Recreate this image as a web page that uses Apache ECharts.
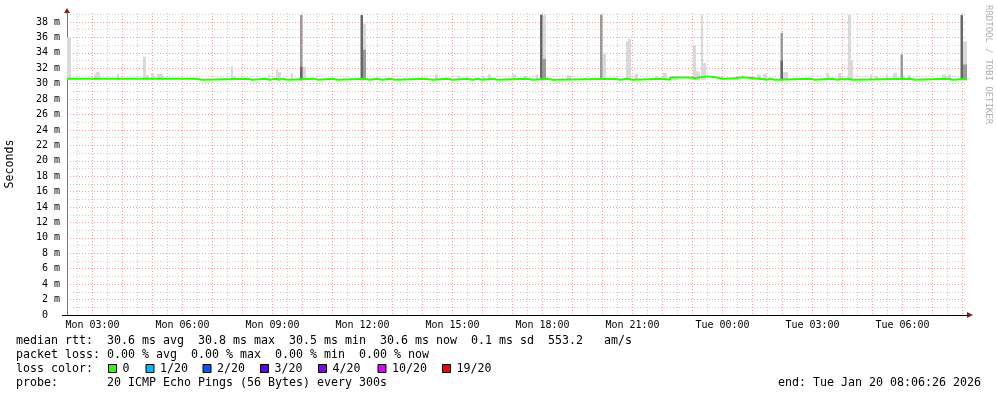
<!DOCTYPE html>
<html>
  <head>
    <meta charset="utf-8" />
    <title>smokeping median rtt</title>
    <script src="https://cdn.jsdelivr.net/npm/echarts@6/dist/echarts.min.js"></script>
  </head>
  <body style="margin:0;background:#fff;">
    <div id="container" style="width: 997px;height: 397px;"></div>

    <script type="text/javascript">
    // time values are minutes since Mon 00:00
    var timeMin = 129;
    var timeMax = 1929;
    var valueMax = 39.17;

    var xLabelTimes = [180, 360, 540, 720, 900, 1080, 1260, 1440, 1620, 1800];
    var yLabelValues = [0, 2, 4, 6, 8, 10, 12, 14, 16, 18, 20, 22, 24, 26, 28, 30, 32, 34, 36, 38];

    // median rtt, step changes [time, ms]
    var medianSteps = [
      [129, 30.65], [385, 30.52], [400, 30.65], [490, 30.52], [500, 30.65],
      [525, 30.52], [535, 30.65], [545, 30.52], [555, 30.65], [560, 30.52],
      [570, 30.65], [625, 30.52], [630, 30.65], [660, 30.52], [670, 30.65],
      [725, 30.52], [735, 30.65], [750, 30.52], [760, 30.65], [775, 30.52],
      [785, 30.65], [845, 30.52], [860, 30.65], [890, 30.52], [900, 30.65],
      [930, 30.52], [940, 30.65], [950, 30.52], [960, 30.65], [980, 30.52],
      [990, 30.65], [1050, 30.52], [1060, 30.65], [1090, 30.52], [1100, 30.65],
      [1225, 30.52], [1235, 30.65], [1250, 30.52], [1260, 30.65], [1320, 30.52],
      [1335, 30.8], [1370, 30.75], [1385, 30.95], [1410, 30.8], [1430, 30.65],
      [1440, 30.7], [1465, 30.85], [1480, 30.65], [1515, 30.52], [1530, 30.65],
      [1535, 30.52], [1545, 30.65], [1615, 30.52], [1625, 30.65], [1660, 30.52],
      [1670, 30.65], [1680, 30.52], [1685, 30.65], [1690, 30.52], [1700, 30.65],
      [1815, 30.52], [1825, 30.65], [1890, 30.52], [1900, 30.65], [1929, 30.65]
    ];

    // smoke [from, to, top ms]
    var smokeFloor = 30.45;
    var smokeLight = [
      [129, 137, 36.0], [183, 187, 31.2], [187, 195, 31.5], [229, 233, 31.3],
      [281, 287, 33.5], [287, 293, 31.1], [297, 303, 31.4], [309, 321, 31.3],
      [457, 461, 32.25], [461, 467, 31.0], [531, 535, 31.2], [547, 551, 31.8],
      [551, 557, 31.5], [577, 581, 31.4], [600, 607, 32.2], [721, 727, 37.8],
      [865, 871, 31.2], [911, 915, 31.0], [959, 965, 31.0], [971, 977, 31.2],
      [1019, 1027, 31.2], [1041, 1047, 31.0], [1067, 1071, 31.2], [1080, 1087, 38.95],
      [1129, 1137, 31.1], [1200, 1207, 33.9], [1247, 1251, 35.5], [1251, 1257, 35.8],
      [1265, 1271, 31.3], [1305, 1311, 31.0], [1321, 1329, 31.4], [1339, 1349, 31.0],
      [1381, 1387, 35.0], [1387, 1395, 31.6], [1397, 1401, 38.95], [1401, 1407, 32.7],
      [1509, 1517, 31.2], [1521, 1529, 31.3], [1561, 1571, 31.5], [1647, 1653, 31.4],
      [1671, 1677, 31.4], [1691, 1697, 38.95], [1697, 1701, 33.0], [1735, 1739, 31.2],
      [1745, 1751, 31.0], [1767, 1771, 31.2], [1781, 1789, 31.4], [1801, 1805, 31.1],
      [1811, 1817, 31.1], [1879, 1887, 31.2], [1891, 1897, 31.2], [1921, 1929, 35.5]
    ];
    var smokeMid = [
      [595, 600, 38.9], [721, 727, 34.4], [1080, 1087, 33.2], [1195, 1200, 38.95],
      [1556, 1561, 36.6], [1796, 1801, 33.8], [1921, 1929, 32.5]
    ];
    var smokeDark = [
      [595, 600, 32.2], [716, 721, 38.9], [1075, 1080, 38.95], [1556, 1561, 33.0],
      [1916, 1921, 38.9]
    ];

    var lossLabels = ['0', '1/20', '2/20', '3/20', '4/20', '10/20', '19/20'];
    var lossColors = ['#26ff00', '#00b8ff', '#0059ff', '#5e00ff', '#7e00ff', '#dd00ff', '#ff0000'];

    var medianText = 'median rtt:  30.6 ms avg  30.8 ms max  30.5 ms min  30.6 ms now  0.1 ms sd  553.2   am/s';
    var lossText = 'packet loss: 0.00 % avg  0.00 % max  0.00 % min  0.00 % now';
    var probeText = 'probe:       20 ICMP Echo Pings (56 Bytes) every 300s';
    var endText = 'end: Tue Jan 20 08:06:26 2026';

    var mono = '"DejaVu Sans Mono", monospace';
    var hourLines = [];
    var halfHourLines = [];
    for (var t = 150; t <= timeMax; t += 60) {
      halfHourLines.push(t);
      if (t + 30 <= timeMax) hourLines.push(t + 30);
    }
    var evenLines = yLabelValues.slice();
    var oddLines = yLabelValues.map(function (v) { return v + 1; });

    function pad(n) { return (n < 10 ? '0' : '') + n; }
    function timeLabel(v) {
      var day = v < 1440 ? 'Mon' : 'Tue';
      var m = v % 1440;
      return day + ' ' + pad(Math.floor(m / 60)) + ':' + pad(m % 60);
    }

    function smokeSeries(data, color) {
      return {
        type: 'custom',
        xAxisIndex: 0,
        yAxisIndex: 0,
        silent: true,
        clip: true,
        renderItem: function (params, api) {
          var p0 = api.coord([api.value(0), smokeFloor]);
          var p1 = api.coord([api.value(1), api.value(2)]);
          return {
            type: 'rect',
            shape: { x: p0[0], y: p1[1], width: p1[0] - p0[0], height: p0[1] - p1[1] },
            style: { fill: color }
          };
        },
        encode: { x: [0, 1], y: 2 },
        data: data
      };
    }

    var dom = document.getElementById('container');
    var myChart = echarts.init(dom, null, { renderer: 'canvas' });

    var graphics = [];
    graphics.push({ type: 'text', x: 10, y: 164, rotation: Math.PI / 2,
      style: { text: 'Seconds', font: '11.6px ' + mono, fill: '#000', align: 'center', verticalAlign: 'middle' } });
    graphics.push({ type: 'text', x: 988, y: 5, rotation: -Math.PI / 2,
      style: { text: 'RRDTOOL / TOBI OETIKER', font: '9px ' + mono, fill: '#b0b0b0', align: 'left', verticalAlign: 'middle' } });
    graphics.push({ type: 'polygon', shape: { points: [[64, 13], [70, 13], [67, 8]] }, style: { fill: '#8b1a1a' } });
    graphics.push({ type: 'polygon', shape: { points: [[967, 312], [967, 318], [973, 315]] }, style: { fill: '#8b1a1a' } });
    graphics.push({ type: 'line', shape: { x1: 62, y1: 315.5, x2: 67, y2: 315.5 }, style: { stroke: '#000', lineWidth: 1 } });
    [[medianText, 341], [lossText, 355], ['loss color:', 369], [probeText, 383]].forEach(function (row) {
      graphics.push({ type: 'text', x: 16, y: row[1],
        style: { text: row[0], font: '11.63px ' + mono, fill: '#000', verticalAlign: 'middle' } });
    });
    graphics.push({ type: 'text', x: 981, y: 383,
      style: { text: endText, font: '11.63px ' + mono, fill: '#000', align: 'right', verticalAlign: 'middle' } });
    var boxX = [108, 145.5, 202.5, 260, 318, 377.5, 442];
    lossLabels.forEach(function (lab, i) {
      graphics.push({ type: 'rect', shape: { x: boxX[i] + 0.5, y: 364.5, width: 8, height: 8 },
        style: { fill: lossColors[i], stroke: '#000', lineWidth: 1 } });
      graphics.push({ type: 'text', x: boxX[i] + 14.5, y: 369,
        style: { text: lab, font: '11.63px ' + mono, fill: '#000', verticalAlign: 'middle' } });
    });

    var option = {
      animation: false,
      backgroundColor: '#fff',
      grid: { left: 67, top: 13, width: 900, height: 302 },
      xAxis: [
        {
          type: 'value', min: timeMin, max: timeMax,
          axisLine: { lineStyle: { color: '#000', width: 1 } },
          axisTick: { show: false, customValues: hourLines },
          axisLabel: { customValues: xLabelTimes, formatter: timeLabel, margin: 5,
            fontFamily: 'DejaVu Sans Mono', fontSize: 10, color: '#000' },
          splitLine: { show: true, lineStyle: { color: '#f0a0a0', type: [1, 2], width: 1 } }
        },
        {
          type: 'value', min: timeMin, max: timeMax, position: 'bottom',
          axisLine: { show: false }, axisLabel: { show: false },
          axisTick: { show: false, customValues: halfHourLines },
          splitLine: { show: true, lineStyle: { color: '#cccccc', type: [1, 2], width: 1 } }
        }
      ],
      yAxis: [
        {
          type: 'value', min: 0, max: valueMax,
          axisLine: { show: true, lineStyle: { color: '#777', width: 1 } },
          axisTick: { show: false, customValues: evenLines },
          axisLabel: { customValues: yLabelValues, margin: 7,
            formatter: function (v) { return v === 0 ? '0  ' : v + ' m'; },
            fontFamily: 'DejaVu Sans Mono', fontSize: 10, color: '#000' },
          splitLine: { show: true, lineStyle: { color: '#f0a0a0', type: [1, 2], width: 1 } }
        },
        {
          type: 'value', min: 0, max: valueMax, position: 'left',
          axisLine: { show: false }, axisLabel: { show: false },
          axisTick: { show: false, customValues: oddLines },
          splitLine: { show: true, lineStyle: { color: '#cccccc', type: [1, 2], width: 1 } }
        }
      ],
      series: [
        smokeSeries(smokeLight, '#d9d9d9'),
        smokeSeries(smokeMid, '#9a9a9a'),
        smokeSeries(smokeDark, '#666666'),
        {
          type: 'line',
          xAxisIndex: 0,
          yAxisIndex: 0,
          step: 'end',
          symbol: 'none',
          silent: true,
          lineStyle: { color: '#26ff00', width: 2 },
          data: medianSteps
        }
      ],
      graphic: graphics
    };

    if (option && typeof option === 'object') {
      myChart.setOption(option);
    }
    window.addEventListener('resize', myChart.resize);
    </script>
  </body>
</html>
